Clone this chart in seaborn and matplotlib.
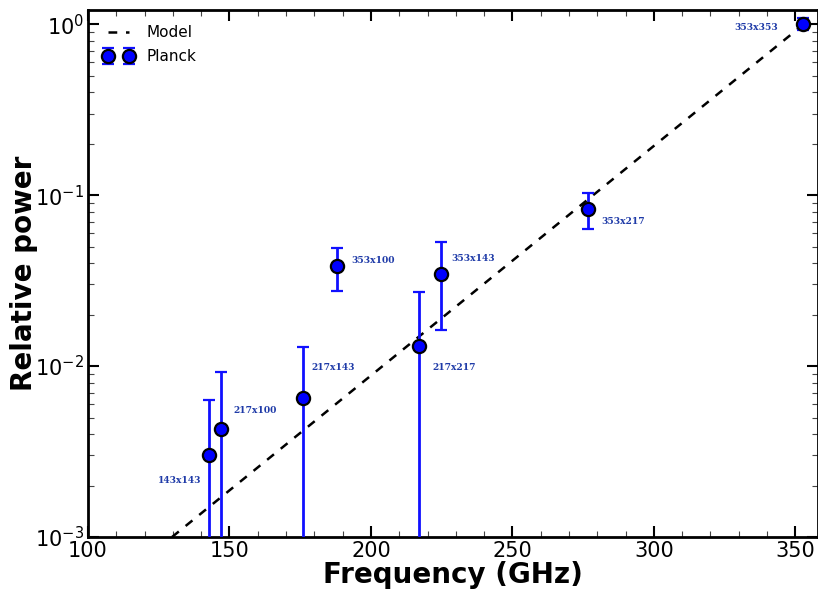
import matplotlib
matplotlib.use("Agg")
import matplotlib.pyplot as plt
import seaborn as sns
import numpy as np
import pandas as pd
from matplotlib.ticker import MultipleLocator, LogLocator

# ---- data ----
labels = ["143x143", "217x100", "217x143", "353x100", "217x217", "353x143", "353x217", "353x353"]
freq = [142.8, 147.0, 176.0, 188.0, 217.0, 224.7, 276.7, 352.6]
power = [3.0e-3, 4.3e-3, 6.5e-3, 3.85e-2, 1.31e-2, 3.45e-2, 8.3e-2, 1.0]
err_lo = [1e-5, 1e-5, 1e-5, 2.75e-2, 1e-5, 1.62e-2, 6.3e-2, 0.92]
err_hi = [6.3e-3, 9.2e-3, 1.3e-2, 4.9e-2, 2.7e-2, 5.3e-2, 0.103, 1.08]
model_freq = [129.7, 353.0]
model_power = [1.0e-3, 1.0]
# text offsets (pixels) from each point, and alignment
lab_dx = [-29, 12, 8, 14, 13, 10, 13, -25]
lab_dy = [-25, 18, 31, 5, -21, 16, -13, -3]
lab_ha = ["center", "left", "left", "left", "left", "left", "left", "right"]

df = pd.DataFrame({"freq": freq, "power": power, "lo": err_lo, "hi": err_hi, "label": labels})
dm = pd.DataFrame({"freq": model_freq, "power": model_power})

sns.set_style("ticks")
plt.rcParams["font.family"] = ["DejaVu Sans"]
for k in ["text.color", "axes.labelcolor", "xtick.color", "ytick.color", "axes.edgecolor"]:
    plt.rcParams[k] = "black"

fig = plt.figure(figsize=(8.18, 5.89), dpi=100)
ax = fig.add_axes([88 / 818, 52 / 589, (818 - 88) / 818, 527 / 589])

sns.lineplot(data=dm, x="freq", y="power", ax=ax, color="black", lw=1.8,
             linestyle=(0, (3.5, 3.5)), label="Model")

yerr = np.array([df["power"] - df["lo"], df["hi"] - df["power"]])
ax.errorbar(df["freq"], df["power"], yerr=yerr, fmt="o", color="#1010ff",
            ecolor="#1010ff", elinewidth=2, capsize=4.5, capthick=2,
            markersize=9.5, markerfacecolor="#0000ff", markeredgecolor="black",
            markeredgewidth=1.6, label="Planck", zorder=3)

ax.set_yscale("log")
ax.set_xlim(100, 358)
ax.set_ylim(1e-3, 1.21)

ax.xaxis.set_major_locator(MultipleLocator(50))
ax.xaxis.set_minor_locator(MultipleLocator(10))
ax.yaxis.set_major_locator(LogLocator(base=10, numticks=10))
ax.yaxis.set_minor_locator(LogLocator(base=10, subs=np.arange(2, 10), numticks=100))

ax.tick_params(which="both", direction="in", top=True, right=True, labelsize=15, pad=3,
               color="black", labelcolor="black")
ax.tick_params(which="major", length=8, width=1.5)
ax.tick_params(which="minor", length=4, width=0.8, color="#444444")
for s in ax.spines.values():
    s.set_linewidth(2)
    s.set_color("black")

ax.set_xlabel("Frequency (GHz)", fontsize=20, fontweight="bold", labelpad=0, color="black")
ax.set_ylabel("Relative power", fontsize=20, fontweight="bold", labelpad=-2, color="black")

for i in range(len(labels)):
    ax.annotate(labels[i], (freq[i], power[i]), xytext=(lab_dx[i] * 0.72, lab_dy[i] * 0.72),
                textcoords="offset points", ha=lab_ha[i], va="center",
                fontsize=6.6, fontweight="bold", family="DejaVu Serif", color="#1f3ba8")

ax.legend(loc="upper left", frameon=False, fontsize=11, numpoints=2,
          handlelength=2.0, borderaxespad=0.6, labelspacing=0.6, handletextpad=0.8,
          borderpad=0.4)

fig.savefig("out.png", dpi=100)
